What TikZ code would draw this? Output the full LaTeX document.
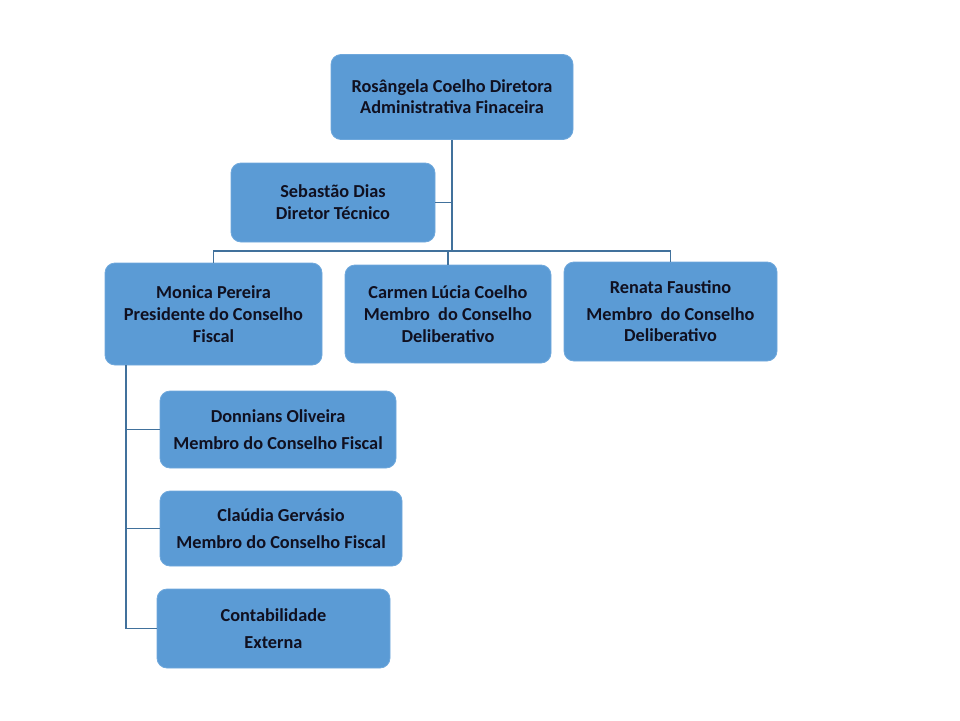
\documentclass[tikz,border=0pt]{standalone}
\usepackage{fontspec}
\setmainfont{Carlito}
\definecolor{boxblue}{HTML}{5B9BD5}
\definecolor{boxedge}{HTML}{6FA8DC}
\definecolor{linkblue}{HTML}{41719C}
\definecolor{txt}{HTML}{101020}
\begin{document}
\begin{tikzpicture}[x=1pt,y=-1pt,
  orgbox/.style={draw=boxedge,line width=0.8pt,fill=boxblue,rounded corners=10pt,
    align=center,inner sep=0pt,text=txt,
    font=\fontsize{18.3}{22}\selectfont\bfseries},
  link/.style={draw=linkblue,line width=1.5pt}]
\useasboundingbox (0,0) rectangle (960,720);
\node[orgbox,minimum width=242pt,minimum height=85pt] (top) at (452,97)
  {Rosângela Coelho Diretora\\[-1pt]Administrativa Finaceira};
\node[orgbox,minimum width=204pt,minimum height=79pt] (seb) at (333,202.5)
  {Sebastão Dias\\Diretor Técnico};
\node[orgbox,minimum width=217pt,minimum height=102pt] (mon) at (213.5,314)
  {Monica Pereira\\Presidente do Conselho\\Fiscal};
\node[orgbox,minimum width=206pt,minimum height=98pt] (car) at (448,314)
  {Carmen Lúcia Coelho\\Membro\ \ do Conselho\\Deliberativo};
\node[orgbox,minimum width=213pt,minimum height=99pt] (ren) at (670.5,311.5)
  {Renata Faustino\\[5pt]Membro\ \ do Conselho\\[-1pt]Deliberativo};
\node[orgbox,minimum width=236pt,minimum height=77pt] (don) at (278,429.5)
  {Donnians Oliveira\\[5pt]Membro do Conselho Fiscal};
\node[orgbox,minimum width=242pt,minimum height=75pt] (cla) at (281,528.5)
  {Claúdia Gervásio\\[5pt]Membro do Conselho Fiscal};
\node[orgbox,minimum width=233pt,minimum height=79pt] (con) at (273.5,628.5)
  {Contabilidade\\[5pt]Externa};
\coordinate (bar) at (452,251);
\coordinate (lx) at (126,0);
\draw[link] (top.south) -- (top.south |- bar);
\draw[link] (seb.east) -- (seb.east -| top.south);
\draw[link] (mon.north) -- (mon.north |- bar) -- (ren.north |- bar) -- (ren.north);
\draw[link] (car.north) -- (car.north |- bar);
\draw[link] (mon.south -| lx) |- (con.west);
\draw[link] (don.west) -- (don.west -| lx);
\draw[link] (cla.west) -- (cla.west -| lx);
\end{tikzpicture}
\end{document}
